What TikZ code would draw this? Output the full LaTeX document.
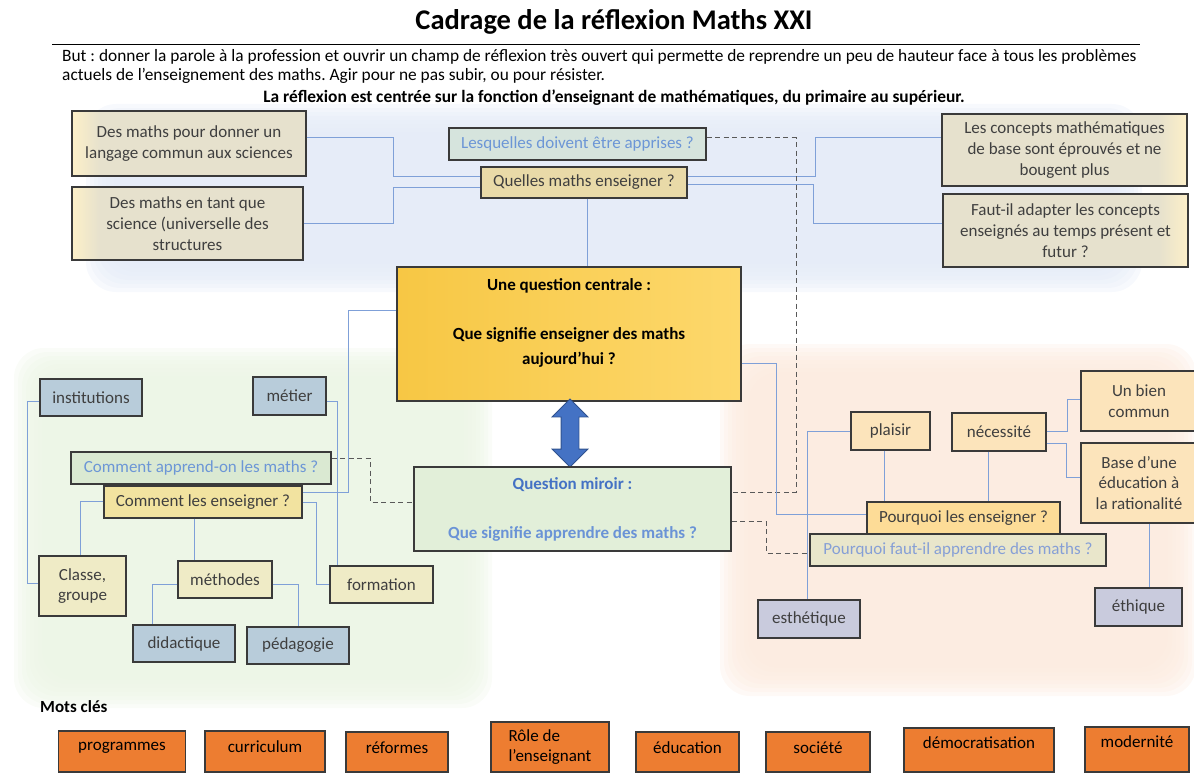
\documentclass[tikz,border=0pt]{standalone}
\usepackage{fontspec}
\setmainfont{Carlito}
\frenchspacing
\usetikzlibrary{shapes.arrows}

% colours
\definecolor{edgegrey}{HTML}{3A3A3A}
\definecolor{inkgrey}{HTML}{3F3F3F}
\definecolor{linkblue}{HTML}{7FA0D8}
\definecolor{dashgrey}{HTML}{595959}
\definecolor{panelblue}{HTML}{E4EBF7}
\definecolor{panelgreen}{HTML}{ECF5E5}
\definecolor{panelpeach}{HTML}{FCEBDF}
\definecolor{boxbeige}{HTML}{E6E1CD}
\definecolor{boxyellow}{HTML}{FDF0C8}
\definecolor{lesqfill}{HTML}{D6E4DD}
\definecolor{quelfill}{HTML}{E9DAA8}
\definecolor{goldA}{HTML}{F7C744}
\definecolor{goldB}{HTML}{FDD86C}
\definecolor{mirfill}{HTML}{E2EFD9}
\definecolor{mirblue}{HTML}{4472C4}
\definecolor{mirlight}{HTML}{6A93D6}
\definecolor{steel}{HTML}{B8CCDA}
\definecolor{learnfill}{HTML}{DAE9D2}
\definecolor{softblue}{HTML}{6C96D6}
\definecolor{teachfill}{HTML}{F2E3A0}
\definecolor{paleyellow}{HTML}{EFEBC6}
\definecolor{peachbox}{HTML}{FCE4BB}
\definecolor{whyfill}{HTML}{FDDC97}
\definecolor{mustfill}{HTML}{E9E6CB}
\definecolor{mustblue}{HTML}{869FD6}
\definecolor{lavender}{HTML}{C9CBDD}
\definecolor{kworange}{HTML}{ED7D31}
\definecolor{arrowedge}{HTML}{2F528F}

% boxes that stick out of the blue panel
\pgfdeclarehorizontalshading{glowleft}{100bp}{color(0bp)=(boxyellow); color(25bp)=(boxyellow); color(31bp)=(boxbeige); color(100bp)=(boxbeige)}
\pgfdeclarehorizontalshading{glowright}{100bp}{color(0bp)=(boxbeige); color(69bp)=(boxbeige); color(75bp)=(boxyellow); color(100bp)=(boxyellow)}

% soft coloured panel: colour, x1, y1, x2, y2
\newcommand{\softpanel}[5]{%
  \foreach \k in {0,...,7}
    \fill[#1, fill opacity=0.28, rounded corners=30pt]
      ({#2+4*\k},{#3+4*\k}) rectangle ({#4-4*\k},{#5-4*\k});
}

\begin{document}
\begin{tikzpicture}[x=1pt, y=-1pt,
  box/.style={draw=edgegrey, line width=1.2pt, inner sep=1pt, align=center,
    text=inkgrey, font=\fontsize{17}{20.8}\selectfont},
  link/.style={draw=linkblue, line width=1pt},
  dashlink/.style={draw=dashgrey, line width=1pt, dash pattern=on 5pt off 3.5pt},
  keyword/.style={box, fill=kworange, text=black}]
\useasboundingbox (0,0) rectangle (1194,773);

% background panels
\softpanel{panelblue}{86}{104}{1142}{292}
\softpanel{panelgreen}{14}{348}{492}{708}
\softpanel{panelpeach}{720}{344}{1196}{696}

% heading
\node[font=\bfseries\fontsize{28.5}{34}\selectfont] (title) at (614,22) {Cadrage de la réflexion Maths XXI};
\draw[line width=0.8pt] (52,44) -- (1140,44);
\node[anchor=west, align=left, inner sep=0, font=\fontsize{17.35}{19}\selectfont] (goal) at (62,66.5)
  {But : donner la parole à la profession et ouvrir un champ de réflexion très ouvert qui permette de reprendre un peu de hauteur face à tous les problèmes\\
   actuels de l’enseignement des maths. Agir pour ne pas subir, ou pour résister.};
\node[font=\bfseries\fontsize{17.4}{20}\selectfont] (focus) at (614,98)
  {La réflexion est centrée sur la fonction d’enseignant de mathématiques, du primaire au supérieur.};

% which maths
\node[box, shading=glowleft, minimum width=234pt, minimum height=65pt] (langage) at (189,143.5)
  {Des maths pour donner un\\langage commun aux sciences};
\node[box, shading=glowleft, minimum width=231pt, minimum height=73pt] (science) at (187.5,223.5)
  {Des maths en tant que\\science (universelle des\\structures};
\node[box, fill=lesqfill, text=softblue, minimum width=257pt, minimum height=32pt] (lesquelles) at (577.5,144)
  {Lesquelles doivent être apprises ?};
\node[box, fill=quelfill, minimum width=206pt, minimum height=31pt] (quelles) at (584,182.5)
  {Quelles maths enseigner ?};
\node[box, shading=glowright, minimum width=245pt, minimum height=72pt] (stables) at (1064.5,150)
  {Les concepts mathématiques\\de base sont éprouvés et ne\\bougent plus};
\node[box, shading=glowright, minimum width=245pt, minimum height=73pt] (adapter) at (1065.5,230.5)
  {Faut-il adapter les concepts\\enseignés au temps présent et\\futur ?};

% central and mirror questions
\node[box, left color=goldA, right color=goldB, text=black, minimum width=344pt, minimum height=134pt,
  font=\bfseries\fontsize{17}{24.5}\selectfont] (centrale) at (569,334)
  {Une question centrale :\\\mbox{}\\Que signifie enseigner des maths\\aujourd’hui ?\\\mbox{}};
\node[double arrow, shape border rotate=90, fill=mirblue, draw=arrowedge, line width=0.8pt,
  minimum height=68pt, minimum width=35pt, double arrow head extend=9pt, inner sep=8.5pt] (twoway) at (570,433) {};
\node[box, fill=mirfill, minimum width=317pt, minimum height=84pt,
  font=\bfseries\fontsize{17}{24.5}\selectfont] (miroir) at (572.5,509)
  {\textcolor{mirblue}{Question miroir :}\\\mbox{}\\\textcolor{mirlight}{Que signifie apprendre des maths ?}};

% how to teach
\node[box, fill=steel, minimum width=102pt, minimum height=37pt] (institutions) at (91,397.5) {institutions};
\node[box, fill=steel, minimum width=73pt, minimum height=38pt] (metier) at (289.5,396) {métier};
\node[box, fill=learnfill, text=softblue, minimum width=260pt, minimum height=32pt] (apprendon) at (201,468)
  {Comment apprend-on les maths ?};
\node[box, fill=teachfill, minimum width=198pt, minimum height=32pt] (enseigner) at (203,502)
  {Comment les enseigner ?};
\node[box, fill=paleyellow, minimum width=87pt, minimum height=60pt] (classe) at (82.5,586) {Classe,\\groupe};
\node[box, fill=paleyellow, minimum width=94pt, minimum height=37pt] (methodes) at (225,579.5) {méthodes};
\node[box, fill=paleyellow, minimum width=103pt, minimum height=37pt] (formation) at (381.5,584.5) {formation};
\node[box, fill=steel, minimum width=102pt, minimum height=37pt] (didactique) at (184,643.5) {didactique};
\node[box, fill=steel, minimum width=102pt, minimum height=37pt] (pedagogie) at (298,645.5) {pédagogie};

% why teach
\node[box, fill=peachbox, minimum width=116pt, minimum height=60pt] (biencommun) at (1139,401) {Un bien\\commun};
\node[box, fill=peachbox, minimum width=116pt, minimum height=80pt] (base) at (1139,483)
  {Base d’une\\éducation à\\la rationalité};
\node[box, fill=peachbox, minimum width=79pt, minimum height=38pt] (plaisir) at (890.5,431) {plaisir};
\node[box, fill=peachbox, minimum width=94pt, minimum height=38pt] (necessite) at (999,432) {nécessité};
\node[box, fill=whyfill, minimum width=193pt, minimum height=32pt] (pourquoiens) at (963.5,518)
  {Pourquoi les enseigner ?};
\node[box, fill=mustfill, text=mustblue, minimum width=296pt, minimum height=32pt] (pourquoifaut) at (958,550)
  {Pourquoi faut-il apprendre des maths ?};
\node[box, fill=lavender, minimum width=102pt, minimum height=38pt] (esthetique) at (809,619) {esthétique};
\node[box, fill=lavender, minimum width=87pt, minimum height=38pt] (ethique) at (1138.5,607) {éthique};

% keywords
\node[anchor=west, inner sep=0, font=\bfseries\fontsize{17}{20}\selectfont] (motscles) at (40,707) {Mots clés};
\node[keyword, text depth=9.5pt, minimum width=127pt, minimum height=41pt] (programmes) at (122,751.5) {programmes};
\node[keyword, text depth=9.5pt, minimum width=120pt, minimum height=41pt] (curriculum) at (265,751.5) {curriculum};
\node[keyword, text depth=8.5pt, minimum width=102pt, minimum height=40pt] (reformes) at (397,752) {réformes};
\node[keyword, align=left, minimum width=118pt, minimum height=50pt] (role) at (550,747) {Rôle de\\l’enseignant};
\node[keyword, text depth=8.5pt, minimum width=103pt, minimum height=40pt] (education) at (687.5,752) {éducation};
\node[keyword, text depth=8.5pt, minimum width=104pt, minimum height=40pt] (societe) at (818,752) {société};
\node[keyword, text depth=14pt, minimum width=150pt, minimum height=44pt] (democratisation) at (979,750) {démocratisation};
\node[keyword, text depth=15pt, minimum width=104pt, minimum height=45pt] (modernite) at (1137,749.5) {modernité};

% connectors, top
\draw[link] (langage.east |- 0,138) -| (393,176) -- (quelles.west |- 0,176);
\draw[link] (science.east |- 0,223) -| (393,187) -- (quelles.west |- 0,187);
\draw[link] (quelles.east |- 0,176) -| (815,138) -- (stables.west |- 0,138);
\draw[link] (quelles.east |- 0,184) -| (813,223) -- (adapter.west |- 0,223);
\draw[link] (quelles.south -| 587,0) -- (centrale.north -| 587,0);
\draw[dashlink] (lesquelles.east |- 0,138) -| (796,492) -- (miroir.east |- 0,492);

% connectors, centre
\draw[link] (centrale.east |- 0,363) -| (776,514) -- (pourquoiens.west |- 0,514);
\draw[link] (centrale.west |- 0,310) -| (348,492) -- (enseigner.east |- 0,492);
\draw[dashlink] (apprendon.east |- 0,458) -| (370,502) -- (miroir.west |- 0,502);
\draw[dashlink] (miroir.east |- 0,521) -| (766,553) -- (pourquoifaut.west |- 0,553);

% connectors, left
\draw[link] (institutions.west |- 0,401) -| (27,583) -- (classe.west |- 0,583);
\draw[link] (metier.east |- 0,401) -| (formation.north -| 337,0);
\draw[link] (enseigner.west |- 0,501) -| (classe.north -| 80,0);
\draw[link] (enseigner.south -| 194,0) -- (methodes.north -| 194,0);
\draw[link] (enseigner.east |- 0,502) -| (316,584) -- (formation.west |- 0,584);
\draw[link] (methodes.west |- 0,584) -| (didactique.north -| 152,0);
\draw[link] (methodes.east |- 0,584) -| (pedagogie.north -| 298,0);

% connectors, right
\draw[link] (plaisir.west |- 0,431) -| (esthetique.north -| 807,0);
\draw[link] (plaisir.south -| 884,0) -- (pourquoiens.north -| 884,0);
\draw[link] (necessite.south -| 988,0) -- (pourquoiens.north -| 988,0);
\draw[link] (necessite.east |- 0,431) -| (1067,399) -- (biencommun.west |- 0,399);
\draw[link] (necessite.east |- 0,443) -| (1066,477) -- (base.west |- 0,477);
\draw[link] (base.south -| 1149,0) -- (ethique.north -| 1149,0);
\end{tikzpicture}
\end{document}
